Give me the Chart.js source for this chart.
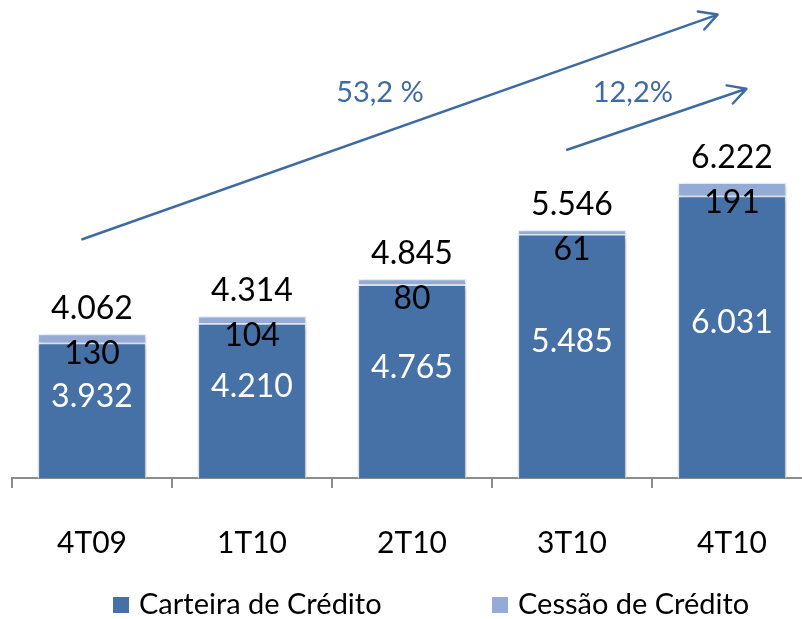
<!DOCTYPE html>
<html>
<head>
<meta charset="utf-8">
<script src="https://cdn.jsdelivr.net/npm/chart.js@4"></script>
<style>
  html, body { margin: 0; padding: 0; background: #fff; overflow: hidden; }
  #wrap { position: relative; width: 812px; height: 619px; }
</style>
</head>
<body>
<div id="wrap"><canvas id="chart"></canvas></div>
<script>
const QUARTERS = ['4T09', '1T10', '2T10', '3T10', '4T10'];
const CARTEIRA = [3932, 4210, 4765, 5485, 6031];
const CESSAO = [130, 104, 80, 61, 191];
const TOTALS = [4062, 4314, 4845, 5546, 6222];
const SERIES_LABELS = ['Carteira de Crédito', 'Cessão de Crédito'];
// growth arrows: label, first and last quarter of the span
const GROWTH = [
  { label: '53,2 %', from: 0, to: 4 },
  { label: '12,2%', from: 3, to: 4 },
];

const DARK = '#4671a6';
const LIGHT = '#93abd5';
const ARROW = '#3e6ca2';
const FONT = 'Lato, "Liberation Sans", sans-serif';

const fmt = (v) => v.toLocaleString('de-DE');

// soft drop shadow under the bars
const barShadow = {
  id: 'barShadow',
  beforeDatasetsDraw(chart) {
    const c = chart.ctx;
    c.save();
    c.shadowColor = 'rgba(0,0,0,0.22)';
    c.shadowBlur = 5;
    c.shadowOffsetX = 2;
    c.shadowOffsetY = 2;
  },
  afterDatasetsDraw(chart) {
    chart.ctx.restore();
  },
};

const valueLabels = {
  id: 'valueLabels',
  afterDatasetsDraw(chart) {
    const c = chart.ctx;
    const y = chart.scales.y;
    const base = chart.chartArea.bottom;
    c.save();
    c.font = '32px ' + FONT;
    c.textAlign = 'center';
    c.textBaseline = 'middle';
    chart.getDatasetMeta(0).data.forEach((bar, i) => {
      const x = bar.x;
      const top = y.getPixelForValue(TOTALS[i]);
      const mid = (y.getPixelForValue(CARTEIRA[i]) + base) / 2;
      c.fillStyle = '#fff';
      c.fillText(fmt(CARTEIRA[i]), x, mid - 14);
      c.fillStyle = '#000';
      c.fillText(fmt(CESSAO[i]), x, top + 20);
      c.fillText(fmt(TOTALS[i]), x, top - 25);
    });
    c.restore();
  },
};

function drawArrow(c, x0, y0, x1, y1) {
  const a = Math.atan2(y1 - y0, x1 - x0);
  const head = 20;
  c.beginPath();
  c.moveTo(x0, y0);
  c.lineTo(x1, y1);
  c.moveTo(x1 - head * Math.cos(a - 0.5), y1 - head * Math.sin(a - 0.5));
  c.lineTo(x1, y1);
  c.lineTo(x1 - head * Math.cos(a + 0.5), y1 - head * Math.sin(a + 0.5));
  c.stroke();
}

const growthArrows = {
  id: 'growthArrows',
  afterDraw(chart) {
    const c = chart.ctx;
    const xs = chart.scales.x;
    const ys = chart.scales.y;
    // arrow geometry in category-index / value space
    const geo = [
      { x0: -0.06, v0: 5410, x1: 3.91, v1: 8620, tx: 1.8, tv: 7500 },
      { x0: 2.97, v0: 6690, x1: 4.09, v1: 7560, tx: 3.38, tv: 7500 },
    ];
    c.save();
    c.strokeStyle = ARROW;
    c.lineWidth = 2.5;
    c.lineCap = 'round';
    c.lineJoin = 'round';
    c.fillStyle = ARROW;
    c.font = '29px ' + FONT;
    c.textAlign = 'center';
    c.textBaseline = 'middle';
    GROWTH.forEach((g, k) => {
      const p = geo[k];
      drawArrow(c, xs.getPixelForValue(p.x0), ys.getPixelForValue(p.v0),
        xs.getPixelForValue(p.x1), ys.getPixelForValue(p.v1));
      c.fillText(g.label, xs.getPixelForValue(p.tx), ys.getPixelForValue(p.tv));
    });
    c.restore();
  },
};

// legend drawn by hand so it sits where the original does
const bottomLegend = {
  id: 'bottomLegend',
  afterDraw(chart) {
    const c = chart.ctx;
    const items = [
      { text: SERIES_LABELS[0], color: DARK, x: 113 },
      { text: SERIES_LABELS[1], color: LIGHT, x: 492 },
    ];
    c.save();
    c.font = '29px ' + FONT;
    c.textBaseline = 'middle';
    c.textAlign = 'left';
    items.forEach((it) => {
      c.fillStyle = it.color;
      c.fillRect(it.x, 597, 16, 16);
      c.fillStyle = '#000';
      c.fillText(it.text, it.x + 26, 605);
    });
    c.restore();
  },
};

new Chart(document.getElementById('chart'), {
  type: 'bar',
  data: {
    labels: QUARTERS,
    datasets: [
      { label: SERIES_LABELS[0], data: CARTEIRA, backgroundColor: DARK, borderColor: '#dfe7f2', borderWidth: 1.5 },
      { label: SERIES_LABELS[1], data: CESSAO, backgroundColor: LIGHT, borderColor: '#eef2f9', borderWidth: 1.5 },
    ],
  },
  options: {
    responsive: true,
    maintainAspectRatio: false,
    animation: false,
    layout: { padding: { left: 12, right: 0, top: 2, bottom: 21 } },
    datasets: { bar: { barPercentage: 0.68, categoryPercentage: 1 } },
    plugins: { legend: { display: false }, tooltip: { enabled: false } },
    scales: {
      x: {
        stacked: true,
        grid: { display: true, drawOnChartArea: false, offset: true, color: '#8c8c8c', lineWidth: 2, tickLength: 10 },
        border: { display: true, color: '#8c8c8c', width: 2 },
        ticks: { color: '#000', font: { family: FONT, size: 30 }, padding: 37 },
      },
      y: {
        stacked: true,
        display: false,
        min: 2000,
        max: 8800,
      },
    },
  },
  plugins: [barShadow, valueLabels, growthArrows, bottomLegend],
});
</script>
</body>
</html>
